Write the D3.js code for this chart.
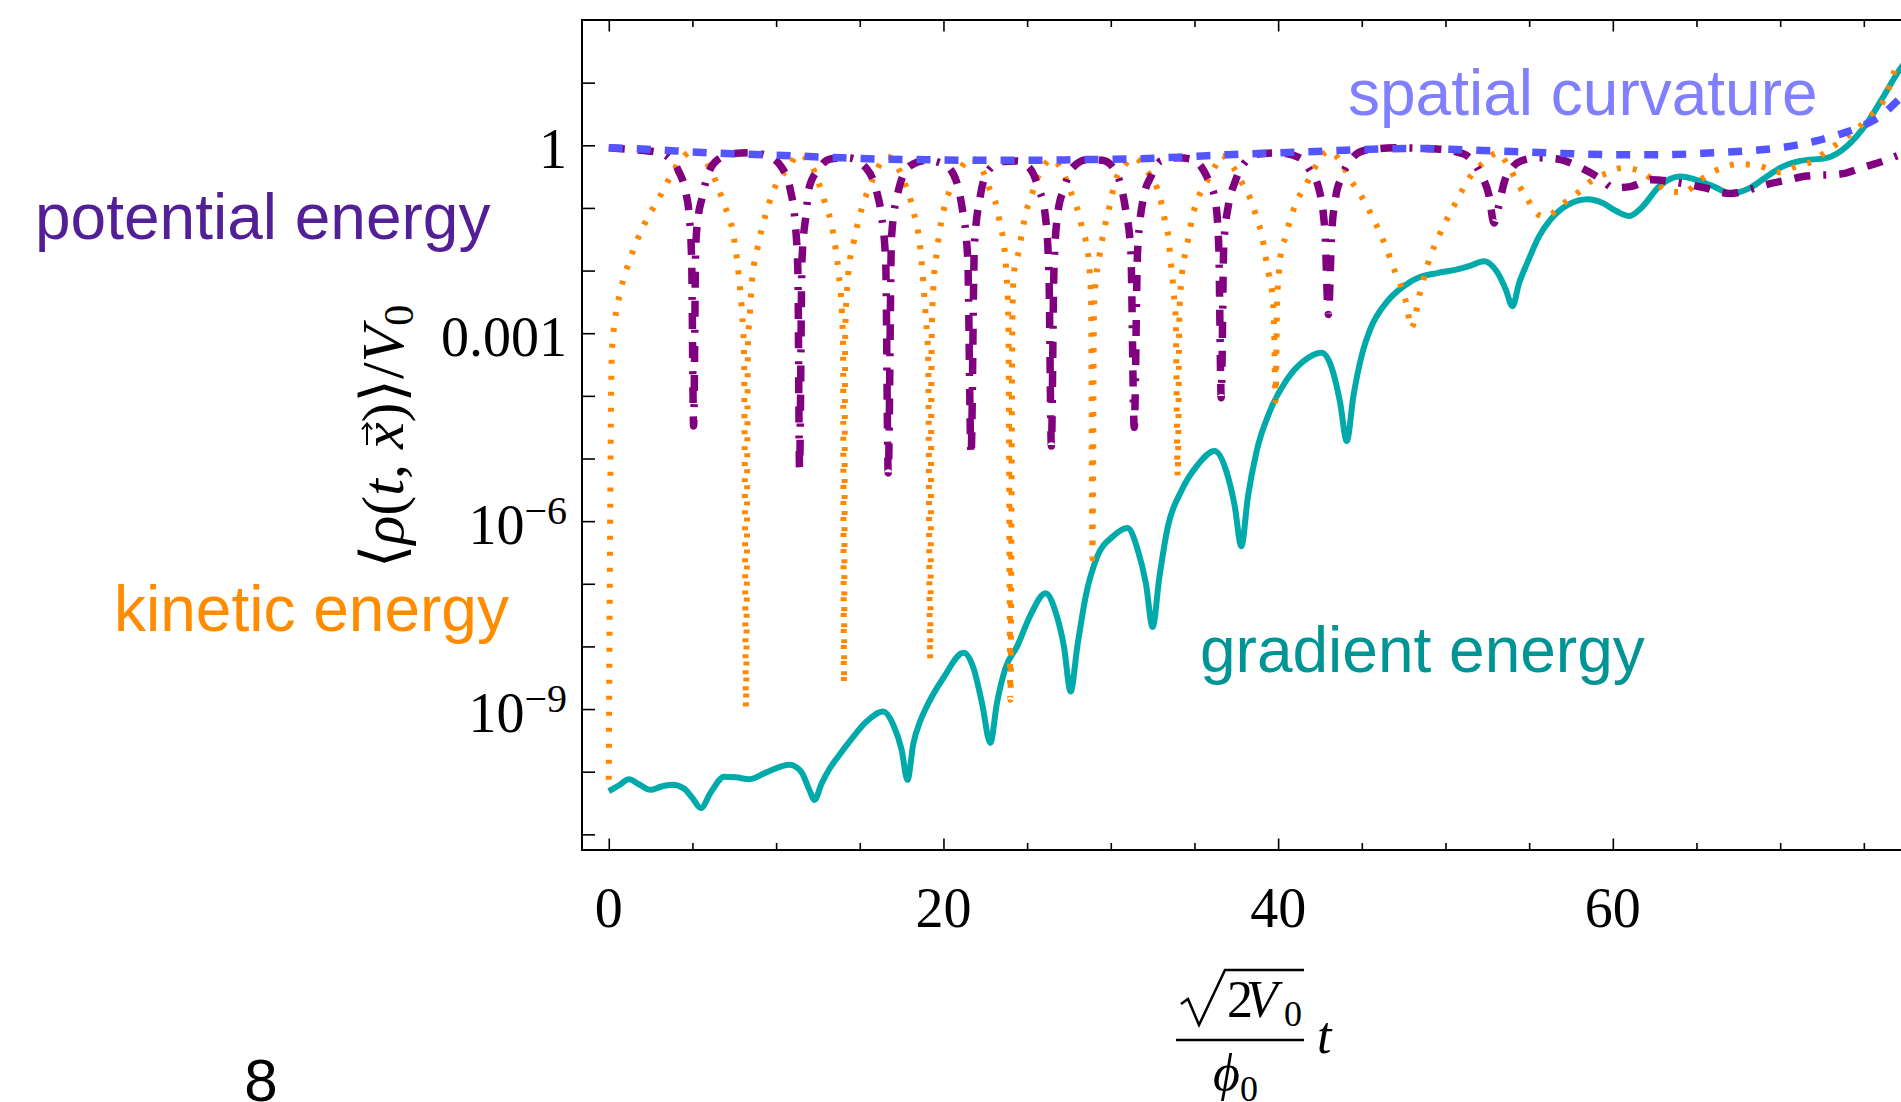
<!DOCTYPE html>
<html>
<head>
<meta charset="utf-8">
<script src="https://cdn.jsdelivr.net/npm/d3@7"></script>
<style>body{margin:0;background:#fff;overflow:hidden}</style>
</head>
<body>
<svg id="chart" width="1901" height="1102"></svg>
<script>
// each point: [t, log10 of <rho>/V0]
var curvature = [[0,-0.04],[2,-0.06],[4,-0.09],[6,-0.12],[8,-0.14],[10,-0.16],[13,-0.19],[16,-0.22],[19,-0.23],[22,-0.24],[25,-0.24],[28,-0.23],[31,-0.22],[34,-0.19],[37,-0.15],[40,-0.12],[43,-0.09],[46,-0.06],[48.5,-0.05],[51,-0.07],[54,-0.1],[57,-0.13],[60,-0.15],[63,-0.15],[66,-0.12],[68,-0.09],[70,-0.04],[72,0.06],[73.5,0.17],[75,0.32],[76,0.47],[77,0.71],[77.4,0.82]];

var gradient = [[0,-10.31],[0.6,-10.22],[1.2,-10.12],[1.8,-10.2],[2.5,-10.29],[3.1,-10.24],[3.8,-10.21],[4.5,-10.27],[5.0,-10.42],[5.5,-10.58],[6.1,-10.33],[6.9,-10.08],[7.6,-10.09],[8.4,-10.12],[9.5,-10.0],[10.8,-9.89],[11.5,-10.0],[12.0,-10.3],[12.3,-10.45],[12.7,-10.2],[13.2,-9.95],[13.7,-9.76],[14.5,-9.48],[15.4,-9.2],[16.4,-9.04],[17.0,-9.25],[17.5,-9.65],[17.85,-10.13],[18.2,-9.55],[18.6,-9.2],[19.0,-8.96],[20.0,-8.5],[21.2,-8.1],[21.8,-8.35],[22.3,-8.9],[22.8,-9.54],[23.2,-8.9],[23.7,-8.35],[24.4,-8.0],[25.2,-7.5],[26.1,-7.15],[26.7,-7.45],[27.2,-8.0],[27.6,-8.72],[28.0,-8.0],[28.5,-7.2],[29.2,-6.56],[30.1,-6.25],[31.0,-6.11],[31.6,-6.45],[32.1,-7.0],[32.5,-7.69],[32.9,-6.9],[33.4,-6.1],[34.25,-5.5],[35.2,-5.1],[36.2,-4.88],[36.9,-5.2],[37.4,-5.75],[37.8,-6.4],[38.2,-5.6],[38.7,-4.9],[39.5,-4.25],[40.5,-3.75],[41.5,-3.45],[42.6,-3.31],[43.2,-3.55],[43.7,-4.1],[44.1,-4.72],[44.5,-4.0],[45.0,-3.35],[45.5,-2.94],[46.5,-2.5],[47.5,-2.25],[48.5,-2.1],[49.5,-2.04],[50.7,-1.98],[51.5,-1.92],[52.3,-1.85],[53.1,-2.03],[53.6,-2.3],[54.0,-2.57],[54.4,-2.2],[54.9,-1.87],[55.6,-1.45],[56.3,-1.18],[57.3,-0.95],[58.5,-0.86],[59.4,-0.92],[60.2,-1.05],[61.0,-1.13],[61.7,-1.0],[62.8,-0.65],[64.0,-0.5],[65.2,-0.57],[66.2,-0.68],[67.0,-0.77],[68.2,-0.68],[69.2,-0.5],[70.0,-0.36],[71.2,-0.25],[72.8,-0.2],[74.0,-0.01],[75.2,0.36],[76.2,0.79],[77.1,1.19],[77.4,1.3]];

var potential = [[0,-0.04],[1.5,-0.07],[2.9,-0.11],[3.6,-0.2],[4.17,-0.41],[4.6,-0.75],[4.8,-1.1],[4.95,-1.8],[5.07,-4.48],[5.2,-1.6],[5.35,-1.13],[5.56,-0.86],[5.86,-0.52],[6.56,-0.22],[7.5,-0.13],[8.45,-0.12],[9.4,-0.16],[10.35,-0.36],[10.84,-0.7],[11.14,-1.24],[11.3,-2.0],[11.4,-5.15],[11.55,-1.8],[11.8,-1.08],[11.95,-0.7],[12.54,-0.38],[13.24,-0.22],[14.3,-0.2],[15.43,-0.38],[16.0,-0.73],[16.3,-1.13],[16.55,-1.87],[16.7,-5.23],[16.9,-1.45],[17.3,-0.73],[18.0,-0.33],[19.0,-0.24],[19.8,-0.28],[20.4,-0.38],[21.1,-0.97],[21.45,-1.8],[21.65,-4.95],[21.85,-1.6],[22.2,-0.81],[22.7,-0.4],[23.5,-0.26],[24.4,-0.25],[25.2,-0.38],[25.7,-0.7],[26.05,-1.05],[26.3,-2.0],[26.45,-4.8],[26.6,-2.0],[26.85,-1.05],[27.2,-0.7],[27.7,-0.36],[28.6,-0.23],[29.5,-0.24],[30.27,-0.41],[30.87,-1.0],[31.2,-1.7],[31.4,-4.5],[31.6,-1.7],[31.95,-0.84],[32.4,-0.5],[33.0,-0.25],[34.0,-0.2],[34.8,-0.22],[35.45,-0.36],[35.9,-0.6],[36.25,-0.89],[36.45,-1.6],[36.6,-4.03],[36.75,-1.6],[37.04,-0.94],[37.4,-0.6],[37.94,-0.3],[38.8,-0.14],[40.0,-0.12],[41.3,-0.2],[41.9,-0.4],[42.42,-0.68],[42.8,-1.39],[43.0,-2.7],[43.2,-1.4],[43.42,-0.86],[43.8,-0.5],[44.3,-0.25],[45.2,-0.08],[47.0,-0.04],[49.5,-0.06],[51.1,-0.14],[52.1,-0.46],[52.6,-0.8],[52.9,-1.24],[53.2,-0.95],[53.5,-0.6],[54.0,-0.35],[54.5,-0.25],[55.5,-0.2],[56.7,-0.22],[58.1,-0.36],[59.3,-0.54],[60.05,-0.68],[61.05,-0.66],[62.3,-0.55],[64.2,-0.61],[65.5,-0.68],[67.0,-0.77],[68.0,-0.72],[69.0,-0.64],[70.5,-0.55],[71.6,-0.49],[73.6,-0.46],[75.0,-0.35],[76.2,-0.25],[77.4,-0.12]];

var kinetic = [[0,-10.13],[0.18,-3.34],[0.38,-2.78],[0.68,-2.35],[1.28,-1.81],[2.07,-1.29],[3.07,-0.81],[4.17,-0.28],[4.87,-0.09],[5.1,-0.06],[5.5,-0.15],[6.06,-0.38],[6.86,-0.92],[7.46,-1.45],[7.75,-2.03],[7.96,-2.67],[8.08,-3.3],[8.2,-8.98],[8.32,-3.1],[8.41,-2.78],[8.55,-2.19],[8.85,-1.69],[9.35,-1.13],[10.05,-0.6],[10.74,-0.36],[11.34,-0.14],[11.6,-0.17],[12.14,-0.33],[12.83,-0.84],[13.4,-1.39],[13.73,-2.03],[13.93,-2.67],[14.0,-3.2],[14.05,-8.6],[14.13,-3.0],[14.3,-2.08],[14.63,-1.55],[15.13,-1.0],[15.82,-0.52],[16.4,-0.22],[16.7,-0.18],[17.0,-0.25],[17.6,-0.54],[18.2,-1.05],[18.6,-1.61],[18.8,-2.2],[18.95,-2.78],[19.08,-3.3],[19.2,-8.21],[19.3,-3.0],[19.4,-2.25],[19.6,-1.71],[19.9,-1.18],[20.4,-0.7],[21.0,-0.38],[21.65,-0.2],[22.4,-0.44],[22.8,-0.73],[23.2,-1.0],[23.4,-1.29],[23.6,-1.55],[23.75,-2.0],[23.88,-2.8],[24.0,-8.85],[24.12,-2.8],[24.2,-2.06],[24.5,-1.69],[24.7,-1.39],[24.9,-1.1],[25.2,-0.86],[25.5,-0.6],[26.0,-0.33],[26.45,-0.22],[27.1,-0.41],[27.7,-0.81],[28.07,-1.08],[28.3,-1.34],[28.58,-1.63],[28.72,-1.95],[28.82,-2.5],[28.9,-6.6],[29.0,-2.6],[29.15,-2.05],[29.3,-1.8],[29.47,-1.53],[29.67,-1.26],[29.9,-1.0],[30.3,-0.55],[30.8,-0.33],[31.4,-0.2],[32.16,-0.41],[32.76,-0.68],[33.06,-0.97],[33.26,-1.24],[33.46,-1.5],[33.56,-1.79],[33.66,-2.06],[33.76,-2.35],[33.88,-2.8],[34.0,-5.29],[34.1,-2.7],[34.16,-2.35],[34.26,-2.03],[34.46,-1.71],[34.66,-1.45],[34.86,-1.16],[35.15,-0.89],[35.75,-0.57],[36.35,-0.28],[36.6,-0.16],[37.34,-0.36],[37.94,-0.65],[38.44,-0.92],[38.74,-1.18],[39.04,-1.45],[39.24,-1.77],[39.44,-2.06],[39.64,-2.35],[39.75,-2.8],[39.85,-4.08],[39.94,-2.5],[40.04,-2.06],[40.14,-1.77],[40.43,-1.47],[40.73,-1.18],[41.1,-0.9],[41.63,-0.65],[42.1,-0.4],[43.0,-0.09],[43.82,-0.3],[44.3,-0.54],[44.9,-0.78],[45.4,-1.02],[45.9,-1.29],[46.3,-1.53],[47.0,-2.03],[47.7,-2.57],[47.95,-2.92],[48.5,-2.33],[49.1,-1.77],[49.6,-1.45],[50.5,-0.97],[51.6,-0.46],[52.4,-0.25],[53.1,-0.12],[53.7,-0.3],[54.3,-0.6],[54.9,-0.86],[55.5,-1.1],[55.9,-1.14],[56.3,-1.1],[57.1,-0.92],[57.9,-0.76],[58.7,-0.57],[59.7,-0.44],[60.6,-0.36],[61.6,-0.41],[62.6,-0.6],[63.3,-0.73],[64.3,-0.75],[65.0,-0.6],[66.1,-0.41],[67.6,-0.3],[68.7,-0.33],[70.0,-0.43],[71.0,-0.33],[72.0,-0.25],[72.8,-0.09],[73.8,0.1],[75.2,0.42],[76.4,0.84],[77.0,1.35]];

var xMajorTicks = [0, 20, 40, 60, 80];
var xMinorTicks = [5, 10, 15, 25, 30, 35, 45, 50, 55, 65, 70, 75];
var xTickLabels = ["0", "20", "40", "60"];
var yDecades = [1e1, 1, 1e-1, 1e-2, 1e-3, 1e-4, 1e-5, 1e-6, 1e-7, 1e-8, 1e-9, 1e-10, 1e-11];
var yLabelTicks = [1, 1e-3, 1e-6, 1e-9];
var yTickLabels = [["1", ""], ["0.001", ""], ["10", "\u22126"], ["10", "\u22129"]];

var serif = "'Liberation Serif', 'DejaVu Serif', serif",
    sans = "'Liberation Sans', Arial, sans-serif";

var svg = d3.select("#chart"),
    plotLeft = 582, plotTop = 20, plotBottom = 850;

var x = d3.scaleLinear().domain([-1.6, 80]).range([plotLeft, 1947.5]);
var y = d3.scaleLog().domain([1e2, Math.pow(10, -11.25)]).range([plotTop, plotBottom]);

svg.append("rect").attr("width", 1901).attr("height", 1102).attr("fill", "#fff");

svg.append("clipPath").attr("id", "plotclip")
  .append("rect").attr("x", plotLeft).attr("y", plotTop)
  .attr("width", 1400).attr("height", plotBottom - plotTop);

// ticks (pointing inward)
function tickAxis(axis, tr) {
  var g = svg.append("g").attr("transform", tr).call(axis);
  g.select(".domain").remove();
  g.selectAll("line").attr("stroke", "#000").attr("stroke-width", 1.6);
  return g;
}
tickAxis(d3.axisBottom(x).tickValues(xMajorTicks).tickSize(-11.5).tickFormat(""), "translate(0," + plotBottom + ")");
tickAxis(d3.axisBottom(x).tickValues(xMinorTicks).tickSize(-7).tickFormat(""), "translate(0," + plotBottom + ")");
tickAxis(d3.axisTop(x).tickValues(xMajorTicks).tickSize(-11.5).tickFormat(""), "translate(0," + plotTop + ")");
tickAxis(d3.axisTop(x).tickValues(xMinorTicks).tickSize(-7).tickFormat(""), "translate(0," + plotTop + ")");
tickAxis(d3.axisLeft(y).tickValues(yDecades).tickSize(-13).tickFormat(""), "translate(" + plotLeft + ",0)");

// curves
var line = d3.line()
    .x(function(d) { return x(d[0]); })
    .y(function(d) { return y(Math.pow(10, d[1])); })
    .curve(d3.curveMonotoneX);

var plot = svg.append("g").attr("clip-path", "url(#plotclip)").attr("fill", "none");

var series = [
  {data: gradient,  color: "#00aaaa", width: 6,   dash: null},
  {data: kinetic,   color: "#ff8800", width: 6,   dash: "4,12"},
  {data: potential, color: "#800080", width: 7.5, dash: "16,13,16,13,3,13"},
  {data: curvature, color: "#5555ff", width: 7.5, dash: "14,14"}
];
plot.selectAll("path")
  .data(series)
  .enter().append("path")
  .attr("d", function(d) { return line(d.data); })
  .attr("stroke", function(d) { return d.color; })
  .attr("stroke-width", function(d) { return d.width; })
  .attr("stroke-dasharray", function(d) { return d.dash; })
  .attr("stroke-linejoin", "round");

// frame
svg.append("rect").attr("x", plotLeft).attr("y", plotTop)
  .attr("width", 1500).attr("height", plotBottom - plotTop)
  .attr("fill", "none").attr("stroke", "#000").attr("stroke-width", 2);

// x tick labels
svg.append("g").selectAll("text")
  .data(xTickLabels)
  .enter().append("text")
  .attr("x", function(d) { return x(+d); })
  .attr("y", 927)
  .attr("text-anchor", "middle")
  .attr("font-family", serif).attr("font-size", 56)
  .text(function(d) { return d; });

// y tick labels
var yl = svg.append("g").selectAll("text")
  .data(yLabelTicks)
  .enter().append("text")
  .attr("x", 567)
  .attr("y", function(d) { return y(d) + 23; })
  .attr("text-anchor", "end")
  .attr("font-family", serif).attr("font-size", 56);
yl.append("tspan").text(function(d, i) { return yTickLabels[i][0]; });
yl.append("tspan").attr("font-size", 40).attr("dy", -20)
  .text(function(d, i) { return yTickLabels[i][1]; });

// y axis title
var ylab = svg.append("g").attr("transform", "translate(403,568) rotate(-90)");
var yt = ylab.append("text").attr("font-family", serif).attr("font-size", 60);
[["\u27E8", "normal"], ["\u03C1", "italic"], ["(", "normal"], ["t", "italic"], [", ", "normal"],
 ["x", "italic"], [")\u27E9/", "normal"], ["V", "italic"]].forEach(function(p) {
  yt.append("tspan").attr("font-style", p[1]).text(p[0]);
});
yt.append("tspan").attr("font-size", 42).attr("dy", 10).text("0");
var ex = yt.node().getExtentOfChar(6);
var ax0 = ex.x + 4, ax1 = ex.x + ex.width - 1;
ylab.append("path")
  .attr("d", "M" + ax0 + ",-36L" + ax1 + ",-36M" + (ax1 - 6) + ",-41L" + ax1 + ",-36L" + (ax1 - 6) + ",-31")
  .attr("fill", "none").attr("stroke", "#000").attr("stroke-width", 2);

// x axis title: sqrt(2 V0)/phi0 t
var xlab = svg.append("g").attr("font-family", serif).attr("font-size", 52);
xlab.append("path")
  .attr("d", "M1181,1004L1188,999L1199,1025L1225,970L1304,970")
  .attr("fill", "none").attr("stroke", "#000").attr("stroke-width", 2.5);
xlab.append("text").attr("x", 1227).attr("y", 1017).text("2");
xlab.append("text").attr("x", 1246).attr("y", 1017).attr("font-style", "italic").text("V");
xlab.append("text").attr("x", 1284).attr("y", 1026).attr("font-size", 36).text("0");
xlab.append("line").attr("x1", 1176).attr("x2", 1304).attr("y1", 1040).attr("y2", 1040)
  .attr("stroke", "#000").attr("stroke-width", 2.5);
xlab.append("text").attr("x", 1213).attr("y", 1090).attr("font-style", "italic").text("\u03D5");
xlab.append("text").attr("x", 1240).attr("y", 1101).attr("font-size", 36).text("0");
xlab.append("text").attr("x", 1317).attr("y", 1053).attr("font-style", "italic").text("t");

// curve labels
var labels = [
  {text: "spatial curvature", x: 1348, y: 115, color: "#8080ff"},
  {text: "potential energy",  x: 35,   y: 239, color: "#531f96"},
  {text: "kinetic energy",    x: 114,  y: 631, color: "#ff8c00"},
  {text: "gradient energy",   x: 1200, y: 672, color: "#009494"}
];
svg.append("g").selectAll("text")
  .data(labels)
  .enter().append("text")
  .attr("x", function(d) { return d.x; })
  .attr("y", function(d) { return d.y; })
  .attr("fill", function(d) { return d.color; })
  .attr("font-family", sans).attr("font-size", 64)
  .text(function(d) { return d.text; });

svg.append("text").attr("x", 261).attr("y", 1101)
  .attr("text-anchor", "middle")
  .attr("font-family", sans).attr("font-size", 60)
  .text("8");
</script>
</body>
</html>
